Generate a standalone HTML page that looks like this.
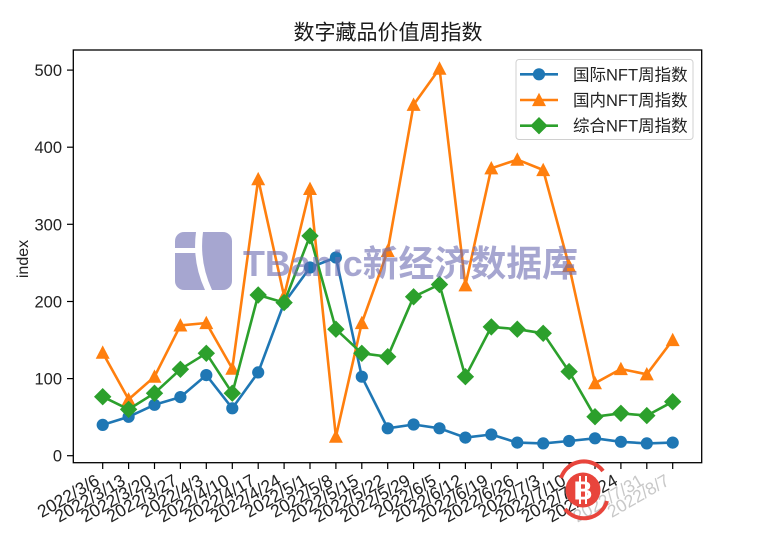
<!DOCTYPE html>
<html>
<head>
<meta charset="utf-8">
<style>
html,body{margin:0;padding:0;background:#fff;}
svg{display:block;}
text{font-family:"Liberation Sans","Noto Sans CJK SC",sans-serif;}
</style>
</head>
<body>
<svg width="777" height="533" viewBox="0 0 777 533" xmlns="http://www.w3.org/2000/svg">
<defs>
  <circle id="mc" r="5.6" fill="#1f77b4" stroke="#1f77b4" stroke-width="1"/>
  <polygon id="mt" points="0,-6 -6,5.5 6,5.5" fill="#ff7f0e" stroke="#ff7f0e" stroke-width="1.2" stroke-linejoin="miter"/>
  <polygon id="md" points="0,-8 8,0 0,8 -8,0" fill="#2ca02c" stroke="#2ca02c" stroke-width="1"/>
</defs>
<rect width="777" height="533" fill="#fff"/>

<!-- title -->
<text x="388" y="39.5" font-size="21" text-anchor="middle" fill="#1a1a1a" font-family="'Noto Sans CJK SC',sans-serif">数字藏品价值周指数</text>

<!-- y ticks -->
<g stroke="#000" stroke-width="1.2">
  <line x1="67" y1="455.7" x2="73.3" y2="455.7"/>
  <line x1="67" y1="378.6" x2="73.3" y2="378.6"/>
  <line x1="67" y1="301.5" x2="73.3" y2="301.5"/>
  <line x1="67" y1="224.3" x2="73.3" y2="224.3"/>
  <line x1="67" y1="147.2" x2="73.3" y2="147.2"/>
  <line x1="67" y1="70.1" x2="73.3" y2="70.1"/>
</g>
<g font-size="16.5" fill="#222" text-anchor="end">
  <text x="62" y="461.7">0</text>
  <text x="62" y="384.6">100</text>
  <text x="62" y="307.5">200</text>
  <text x="62" y="230.3">300</text>
  <text x="62" y="153.2">400</text>
  <text x="62" y="76.1">500</text>
</g>
<text transform="translate(28,259) rotate(-90)" font-size="16" text-anchor="middle" fill="#222">index</text>

<!-- x ticks -->
<g stroke="#000" stroke-width="1.2">
  <line x1="102.7" y1="462.7" x2="102.7" y2="469"/>
  <line x1="128.6" y1="462.7" x2="128.6" y2="469"/>
  <line x1="154.5" y1="462.7" x2="154.5" y2="469"/>
  <line x1="180.4" y1="462.7" x2="180.4" y2="469"/>
  <line x1="206.3" y1="462.7" x2="206.3" y2="469"/>
  <line x1="232.3" y1="462.7" x2="232.3" y2="469"/>
  <line x1="258.2" y1="462.7" x2="258.2" y2="469"/>
  <line x1="284.1" y1="462.7" x2="284.1" y2="469"/>
  <line x1="310.0" y1="462.7" x2="310.0" y2="469"/>
  <line x1="335.9" y1="462.7" x2="335.9" y2="469"/>
  <line x1="361.8" y1="462.7" x2="361.8" y2="469"/>
  <line x1="387.7" y1="462.7" x2="387.7" y2="469"/>
  <line x1="413.6" y1="462.7" x2="413.6" y2="469"/>
  <line x1="439.5" y1="462.7" x2="439.5" y2="469"/>
  <line x1="465.4" y1="462.7" x2="465.4" y2="469"/>
  <line x1="491.3" y1="462.7" x2="491.3" y2="469"/>
  <line x1="517.3" y1="462.7" x2="517.3" y2="469"/>
  <line x1="543.2" y1="462.7" x2="543.2" y2="469"/>
  <line x1="569.1" y1="462.7" x2="569.1" y2="469"/>
  <line x1="595.0" y1="462.7" x2="595.0" y2="469"/>
  <line x1="620.9" y1="462.7" x2="620.9" y2="469"/>
  <line x1="646.8" y1="462.7" x2="646.8" y2="469"/>
  <line x1="672.7" y1="462.7" x2="672.7" y2="469"/>
</g>
<g font-size="17.5" fill="#222" text-anchor="end">
  <text transform="translate(100.7,484) rotate(-30)">2022/3/6</text>
  <text transform="translate(126.6,484) rotate(-30)">2022/3/13</text>
  <text transform="translate(152.5,484) rotate(-30)">2022/3/20</text>
  <text transform="translate(178.4,484) rotate(-30)">2022/3/27</text>
  <text transform="translate(204.3,484) rotate(-30)">2022/4/3</text>
  <text transform="translate(230.3,484) rotate(-30)">2022/4/10</text>
  <text transform="translate(256.2,484) rotate(-30)">2022/4/17</text>
  <text transform="translate(282.1,484) rotate(-30)">2022/4/24</text>
  <text transform="translate(308.0,484) rotate(-30)">2022/5/1</text>
  <text transform="translate(333.9,484) rotate(-30)">2022/5/8</text>
  <text transform="translate(359.8,484) rotate(-30)">2022/5/15</text>
  <text transform="translate(385.7,484) rotate(-30)">2022/5/22</text>
  <text transform="translate(411.6,484) rotate(-30)">2022/5/29</text>
  <text transform="translate(437.5,484) rotate(-30)">2022/6/5</text>
  <text transform="translate(463.4,484) rotate(-30)">2022/6/12</text>
  <text transform="translate(489.3,484) rotate(-30)">2022/6/19</text>
  <text transform="translate(515.3,484) rotate(-30)">2022/6/26</text>
  <text transform="translate(541.2,484) rotate(-30)">2022/7/3</text>
  <text transform="translate(567.1,484) rotate(-30)">2022/7/10</text>
  <text transform="translate(593.0,484) rotate(-30)">2022/7/17</text>
  <text transform="translate(618.9,484) rotate(-30)">2022/7/24</text>
  <text transform="translate(644.8,484) rotate(-30)" fill="#c8c8c8">2022/7/31</text>
  <text transform="translate(670.7,484) rotate(-30)" fill="#c8c8c8">2022/8/7</text>
</g>

<!-- series -->
<g fill="none" stroke-width="2.6" stroke-linejoin="round">
  <polyline stroke="#1f77b4" points="102.7,424.9 128.6,416.8 154.5,404.8 180.4,397.1 206.3,375.1 232.3,408.3 258.2,372.4 284.1,303.0 310.0,267.5 335.9,257.5 361.8,376.7 387.7,428.3 413.6,424.5 439.5,428.3 465.4,437.6 491.3,434.5 517.3,442.6 543.2,443.4 569.1,441.0 595.0,438.3 620.9,441.8 646.8,443.4 672.7,442.6"/>
</g>
<g>
  <use href="#mc" x="102.7" y="424.9"/><use href="#mc" x="128.6" y="416.8"/><use href="#mc" x="154.5" y="404.8"/><use href="#mc" x="180.4" y="397.1"/><use href="#mc" x="206.3" y="375.1"/><use href="#mc" x="232.3" y="408.3"/><use href="#mc" x="258.2" y="372.4"/><use href="#mc" x="284.1" y="303.0"/><use href="#mc" x="310.0" y="267.5"/><use href="#mc" x="335.9" y="257.5"/><use href="#mc" x="361.8" y="376.7"/><use href="#mc" x="387.7" y="428.3"/><use href="#mc" x="413.6" y="424.5"/><use href="#mc" x="439.5" y="428.3"/><use href="#mc" x="465.4" y="437.6"/><use href="#mc" x="491.3" y="434.5"/><use href="#mc" x="517.3" y="442.6"/><use href="#mc" x="543.2" y="443.4"/><use href="#mc" x="569.1" y="441.0"/><use href="#mc" x="595.0" y="438.3"/><use href="#mc" x="620.9" y="441.8"/><use href="#mc" x="646.8" y="443.4"/><use href="#mc" x="672.7" y="442.6"/>
</g>
<g fill="none" stroke-width="2.6" stroke-linejoin="round">
  <polyline stroke="#ff7f0e" points="102.7,352.7 128.6,399.4 154.5,376.7 180.4,325.4 206.3,323.0 232.3,368.6 258.2,179.2 284.1,296.1 310.0,188.9 335.9,436.7 361.8,323.0 387.7,250.9 413.6,104.8 439.5,68.6 465.4,285.3 491.3,168.3 517.3,159.6 543.2,170.0 569.1,266.0 595.0,383.2 620.9,369.0 646.8,374.3 672.7,340.0"/>
</g>
<g>
  <use href="#mt" x="102.7" y="352.7"/><use href="#mt" x="128.6" y="399.4"/><use href="#mt" x="154.5" y="376.7"/><use href="#mt" x="180.4" y="325.4"/><use href="#mt" x="206.3" y="323.0"/><use href="#mt" x="232.3" y="368.6"/><use href="#mt" x="258.2" y="179.2"/><use href="#mt" x="284.1" y="296.1"/><use href="#mt" x="310.0" y="188.9"/><use href="#mt" x="335.9" y="436.7"/><use href="#mt" x="361.8" y="323.0"/><use href="#mt" x="387.7" y="250.9"/><use href="#mt" x="413.6" y="104.8"/><use href="#mt" x="439.5" y="68.6"/><use href="#mt" x="465.4" y="285.3"/><use href="#mt" x="491.3" y="168.3"/><use href="#mt" x="517.3" y="159.6"/><use href="#mt" x="543.2" y="170.0"/><use href="#mt" x="569.1" y="266.0"/><use href="#mt" x="595.0" y="383.2"/><use href="#mt" x="620.9" y="369.0"/><use href="#mt" x="646.8" y="374.3"/><use href="#mt" x="672.7" y="340.0"/>
</g>
<g fill="none" stroke-width="2.6" stroke-linejoin="round">
  <polyline stroke="#2ca02c" points="102.7,396.7 128.6,409.4 154.5,393.2 180.4,369.3 206.3,353.3 232.3,393.2 258.2,295.0 284.1,302.6 310.0,235.9 335.9,329.2 361.8,353.3 387.7,356.7 413.6,296.8 439.5,284.5 465.4,376.7 491.3,326.9 517.3,329.2 543.2,333.3 569.1,371.6 595.0,416.7 620.9,413.3 646.8,415.6 672.7,401.7"/>
</g>
<g>
  <use href="#md" x="102.7" y="396.7"/><use href="#md" x="128.6" y="409.4"/><use href="#md" x="154.5" y="393.2"/><use href="#md" x="180.4" y="369.3"/><use href="#md" x="206.3" y="353.3"/><use href="#md" x="232.3" y="393.2"/><use href="#md" x="258.2" y="295.0"/><use href="#md" x="284.1" y="302.6"/><use href="#md" x="310.0" y="235.9"/><use href="#md" x="335.9" y="329.2"/><use href="#md" x="361.8" y="353.3"/><use href="#md" x="387.7" y="356.7"/><use href="#md" x="413.6" y="296.8"/><use href="#md" x="439.5" y="284.5"/><use href="#md" x="465.4" y="376.7"/><use href="#md" x="491.3" y="326.9"/><use href="#md" x="517.3" y="329.2"/><use href="#md" x="543.2" y="333.3"/><use href="#md" x="569.1" y="371.6"/><use href="#md" x="595.0" y="416.7"/><use href="#md" x="620.9" y="413.3"/><use href="#md" x="646.8" y="415.6"/><use href="#md" x="672.7" y="401.7"/>
</g>

<!-- axes frame -->
<rect x="73.3" y="50" width="628.4" height="412.7" fill="none" stroke="#000" stroke-width="1.3"/>

<!-- legend -->
<rect x="516" y="59.5" width="177" height="80" rx="3" fill="#fff" fill-opacity="0.85" stroke="#d0d0d0" stroke-width="1"/>
<line x1="520" y1="74.3" x2="558" y2="74.3" stroke="#1f77b4" stroke-width="2.6"/>
<use href="#mc" x="539" y="74.3"/>
<line x1="520" y1="100" x2="558" y2="100" stroke="#ff7f0e" stroke-width="2.6"/>
<use href="#mt" x="539" y="100"/>
<line x1="520" y1="125.7" x2="558" y2="125.7" stroke="#2ca02c" stroke-width="2.6"/>
<use href="#md" x="539" y="125.7"/>
<g font-size="16.5" fill="#222">
  <text x="573" y="80.3">国际NFT周指数</text>
  <text x="573" y="106">国内NFT周指数</text>
  <text x="573" y="131.7">综合NFT周指数</text>
</g>

<!-- watermark -->
<g opacity="0.6">
  <rect x="175" y="232" width="57" height="58" rx="9" fill="#6c6cb1"/>
  <path d="M196,232 Q192,262 205,290 L212,290 Q199,262 203,232 Z" fill="#fff"/>
  <rect x="175" y="248" width="22" height="5" fill="#fff"/>
  <text x="243" y="276" font-size="36" font-weight="bold" fill="#6c6cb1" textLength="335" lengthAdjust="spacingAndGlyphs" font-family="'Liberation Sans','Noto Sans CJK SC',sans-serif">TBanic新经济数据库</text>
</g>

<!-- bitcoin badge -->
<g>
  <path d="M561,478 A24,24 0 0 1 603,471" fill="none" stroke="#e8453c" stroke-width="4"/>
  <path d="M607,501 A24,24 0 0 1 565,509" fill="none" stroke="#e8453c" stroke-width="4"/>
  <circle cx="583" cy="490" r="17.5" fill="#e8453c"/>
  <text x="583" y="499.5" font-size="26" font-weight="bold" fill="#fff" text-anchor="middle">B</text>
  <line x1="580" y1="476" x2="580" y2="504" stroke="#fff" stroke-width="2"/>
  <line x1="586" y1="476" x2="586" y2="504" stroke="#fff" stroke-width="2"/>
</g>
</svg>
</body>
</html>
